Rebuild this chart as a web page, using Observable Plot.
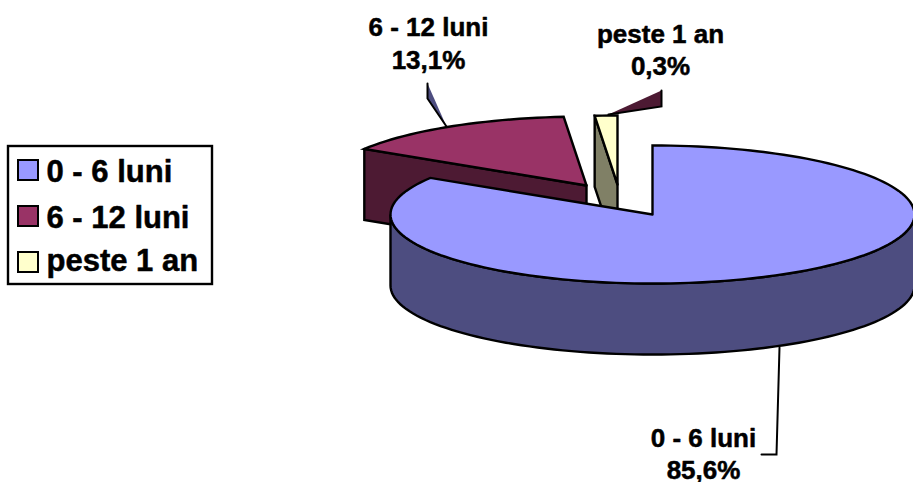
<!DOCTYPE html>
<html><head><meta charset="utf-8">
<script src="https://cdn.jsdelivr.net/npm/d3@7"></script>
<script src="https://cdn.jsdelivr.net/npm/@observablehq/plot@0.6"></script>
<style>html,body{margin:0;background:#fff}svg{display:block}</style>
</head><body><div id="chart"></div>
<script>
const categories = ["0 - 6 luni", "6 - 12 luni", "peste 1 an"];
const shares = [85.6, 13.1, 0.3];
// Drawn sweep of every slice, degrees (3-D view distorts it)
const sweeps = [302, 53, 5];
const topColors = ["#9999ff", "#993366", "#ffffcc"];
const sideColors = ["#4d4d80", "#4d1a33", "#808066"];
const centerX = [652, 586, 617];
const centerY = [214, 185, 184];
const radiusX = 262, radiusY = 69, depth = 71;
const labelX = [703, 428, 660];
const labelY = [452, 41.5, 48];
const leaderFills = ["none", "#4d4d80", "#4d1a33"];
const leaderX = [[779, 776, 761], [427, 427, 446], [661, 661, 608]];
const leaderY = [[347, 454, 454], [83, 98, 126], [90, 106, 114]];
const legendBaseline = [181, 227, 270];
const legendSwatchTop = [160, 206, 252];

const pt = (i, deg, drop = 0) => ({
  x: centerX[i] + radiusX * Math.sin(deg * Math.PI / 180),
  y: centerY[i] - radiusY * Math.cos(deg * Math.PI / 180) + drop
});
const apex = (i, drop = 0) => ({x: centerX[i], y: centerY[i] + drop});
const arc = (i, a0, a1, drop = 0) => {
  const n = Math.max(2, Math.ceil(Math.abs(a1 - a0) / 2));
  return d3.range(n + 1).map(k => pt(i, a0 + (a1 - a0) * k / n, drop));
};
const starts = [0, sweeps[0], sweeps[0] + sweeps[1]];
const closed = pts => [...pts, pts[0]];
const wedge = i => closed([apex(i), ...arc(i, starts[i], starts[i] + sweeps[i])]);
const cutFace = (i, deg) => closed([pt(i, deg), apex(i), apex(i, depth), pt(i, deg, depth)]);
const wall = i => closed([...arc(i, 90, 270), ...arc(i, 270, 90, depth)]);

const shape = (pts, fill, strokeWidth = 2.4) => Plot.line(pts, {
  x: "x", y: "y", fill, stroke: "#000", strokeWidth,
  strokeLinejoin: "miter", strokeMiterlimit: 4, curve: "linear"
});
const leader = i => shape(leaderX[i].map((x, k) => ({x, y: leaderY[i][k]})), leaderFills[i], 2);
const font = {fontFamily: "Liberation Sans, Arial, sans-serif", fontWeight: "bold", fill: "#000", stroke: "#000", strokeWidth: 0.5};
const percent = v => v.toFixed(1).replace(".", ",") + "%";
const rows = categories.map((name, i) => ({name, i}));

document.getElementById("chart").append(Plot.plot({
  width: 913, height: 482, margin: 0,
  style: {background: "#fff"},
  x: {domain: [0, 913], range: [0, 913], axis: null},
  y: {domain: [0, 482], range: [0, 482], axis: null},
  marks: [
    shape(cutFace(1, starts[1]), sideColors[1]),
    shape(wedge(1), topColors[1]),
    leader(1),
    shape(cutFace(2, starts[2]), sideColors[2]),
    shape(wedge(2), topColors[2]),
    leader(2),
    shape(wall(0), sideColors[0]),
    shape(wedge(0), topColors[0]),
    leader(0),
    Plot.text(rows, {
      x: d => labelX[d.i], y: d => labelY[d.i],
      text: d => d.name + "\n" + percent(shares[d.i]),
      fontSize: 26, lineHeight: 1.26, textAnchor: "middle", ...font
    }),
    Plot.rect([{}], {x1: () => 8, x2: () => 212, y1: () => 146, y2: () => 284, fill: "#fff", stroke: "#000", strokeWidth: 2.4}),
    Plot.rect(rows, {
      x1: () => 18, x2: () => 38,
      y1: d => legendSwatchTop[d.i], y2: d => legendSwatchTop[d.i] + 20,
      fill: d => topColors[d.i], stroke: "#000", strokeWidth: 2
    }),
    Plot.text(rows, {
      x: () => 46, y: d => legendBaseline[d.i], text: "name",
      fontSize: 31, textAnchor: "start", lineAnchor: "bottom", ...font
    })
  ]
}));
</script></body></html>
